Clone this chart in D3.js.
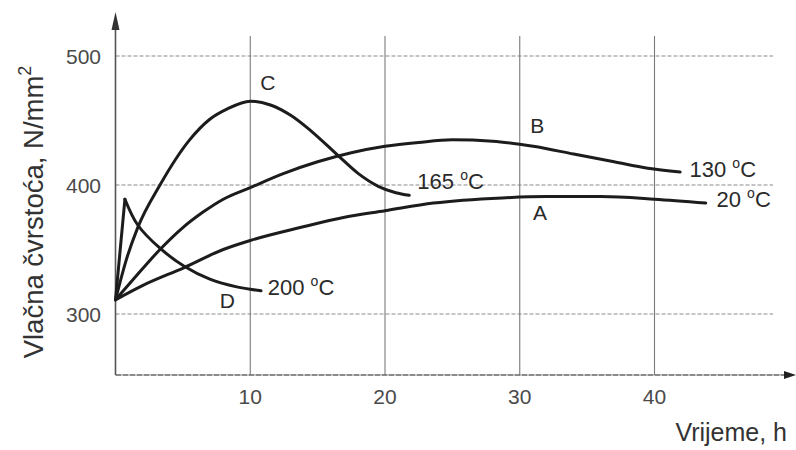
<!DOCTYPE html>
<html>
<head>
<meta charset="utf-8">
<script src="https://cdn.jsdelivr.net/npm/d3@7"></script>
<style>
  html, body { margin: 0; padding: 0; background: #fff; }
  text { font-family: "Liberation Sans", Arial, sans-serif; }
</style>
</head>
<body>
<svg id="chart" width="796" height="450"></svg>
<script>
// ---- data (time in h, strength in N/mm^2) ----
const xTicks = [10, 20, 30, 40];
const yTicks = [300, 400, 500];

const curveA = [[0,311],[2,322],[5.1,336],[8,350],[10,357],[13.7,367],[17,375],[20,380],[23.6,386],[28.7,390],[32,391],[36,391],[40,389],[43.8,386]];
const curveB = [[0,311],[1.5,329],[3.3,350],[5,367],[6.5,379],[8,389],[10,398],[12.5,409],[15,418],[17.5,425],[20,430],[22.5,433],[25,435],[28,434],[31,430],[34,424],[37,418],[39.5,413],[41.9,410]];
const curveC = [[0,311],[0.8,342],[1.65,367],[3.3,400],[5.5,435],[7,451],[8.3,459],[10,465],[11.5,462],[13,454],[14.5,442],[16.5,423],[18,409],[19.5,399],[20.8,394],[21.8,392]];
const curveD = [[0,311],[0.7,389],[1.65,369],[3.3,351],[5.1,337],[7,327],[9,321],[10.8,318]];

const letterLabels = [
  {text: "A", t: 31.5, v: 373},
  {text: "B", t: 31.3, v: 440},
  {text: "C", t: 11.3, v: 474},
  {text: "D", t: 8.3, v: 305}
];
const tempLabels = [
  {num: "20",  t: 44.6, v: 383},
  {num: "130", t: 42.6, v: 406},
  {num: "165", t: 22.4, v: 397},
  {num: "200", t: 11.3, v: 315}
];

// ---- scales ----
const svg = d3.select("#chart");
const x = d3.scaleLinear().domain([0, 40]).range([115.5, 654.5]);
const y = d3.scaleLinear().domain([300, 500]).range([314, 56]);
const axisY = 375;
const gridRight = 773;
const gridTop = 36;

// grid: horizontal dashed
svg.append("g").selectAll("line").data(yTicks).join("line")
  .attr("x1", x(0)).attr("x2", gridRight)
  .attr("y1", d => y(d)).attr("y2", d => y(d))
  .attr("stroke", "#8a8a8a").attr("stroke-width", 1.2)
  .attr("stroke-dasharray", "4,2");

// grid: vertical
svg.append("g").selectAll("line").data(xTicks).join("line")
  .attr("x1", d => x(d)).attr("x2", d => x(d))
  .attr("y1", gridTop).attr("y2", axisY)
  .attr("stroke", "#7a7a7a").attr("stroke-width", 1.1);

// axes
svg.append("line").attr("x1", x(0)).attr("x2", x(0)).attr("y1", 22).attr("y2", axisY)
  .attr("stroke", "#555").attr("stroke-width", 1.6);
svg.append("path")
  .attr("d", `M${x(0)},12 L${x(0)-4},30 L${x(0)+4},30 Z`)
  .attr("fill", "#333");
svg.append("line").attr("x1", x(0)).attr("x2", 786).attr("y1", axisY).attr("y2", axisY)
  .attr("stroke", "#666").attr("stroke-width", 1.4).attr("stroke-dasharray", "6,1");
svg.append("path")
  .attr("d", `M796,${axisY} L784,${axisY-4} L784,${axisY+4} Z`)
  .attr("fill", "#222");

// tick labels
svg.append("g").selectAll("text").data(yTicks).join("text")
  .attr("x", 101).attr("y", d => y(d)).attr("dy", "0.36em")
  .attr("text-anchor", "end").attr("font-size", 21).attr("fill", "#4a4a4a")
  .text(d => d);
svg.append("g").selectAll("text").data(xTicks).join("text")
  .attr("x", d => x(d)).attr("y", 404)
  .attr("text-anchor", "middle").attr("font-size", 21).attr("fill", "#4a4a4a")
  .text(d => d);

// axis titles
svg.append("text").attr("x", 787).attr("y", 441).attr("text-anchor", "end")
  .attr("font-size", 25).attr("fill", "#333").text("Vrijeme, h");

const yt = svg.append("text")
  .attr("transform", "translate(43,212) rotate(-90)")
  .attr("text-anchor", "middle").attr("font-size", 27.5).attr("fill", "#333");
yt.append("tspan").text("Vlačna čvrstoća, N/mm");
yt.append("tspan").attr("dy", -12).attr("font-size", 18).text("2");

// curves
const lineSmooth = d3.line().x(d => x(d[0])).y(d => y(d[1])).curve(d3.curveMonotoneX);
const lineCR = d3.line().x(d => x(d[0])).y(d => y(d[1])).curve(d3.curveCatmullRom.alpha(0.5));
const lineStraight = d3.line().x(d => x(d[0])).y(d => y(d[1]));
const g = svg.append("g").attr("fill", "none").attr("stroke", "#1c1c1c")
  .attr("stroke-width", 3).attr("stroke-linecap", "round").attr("stroke-linejoin", "round");
[curveA, curveB, curveC].forEach(c => g.append("path").attr("d", lineSmooth(c)));
g.append("path").attr("d", lineStraight(curveD.slice(0, 2)));
g.append("path").attr("d", lineCR(curveD.slice(1)));

// letter labels
svg.append("g").selectAll("text").data(letterLabels).join("text")
  .attr("x", d => x(d.t)).attr("y", d => y(d.v))
  .attr("text-anchor", "middle").attr("font-size", 21).attr("fill", "#2a2a2a")
  .text(d => d.text);

// temperature labels
const tl = svg.append("g").selectAll("text").data(tempLabels).join("text")
  .attr("x", d => x(d.t)).attr("y", d => y(d.v))
  .attr("font-size", 22).attr("fill", "#2a2a2a");
tl.append("tspan").text(d => d.num + " ");
tl.append("tspan").attr("dy", -9).attr("font-size", 14).text("o");
tl.append("tspan").attr("dy", 9).text("C");
</script>
</body>
</html>
